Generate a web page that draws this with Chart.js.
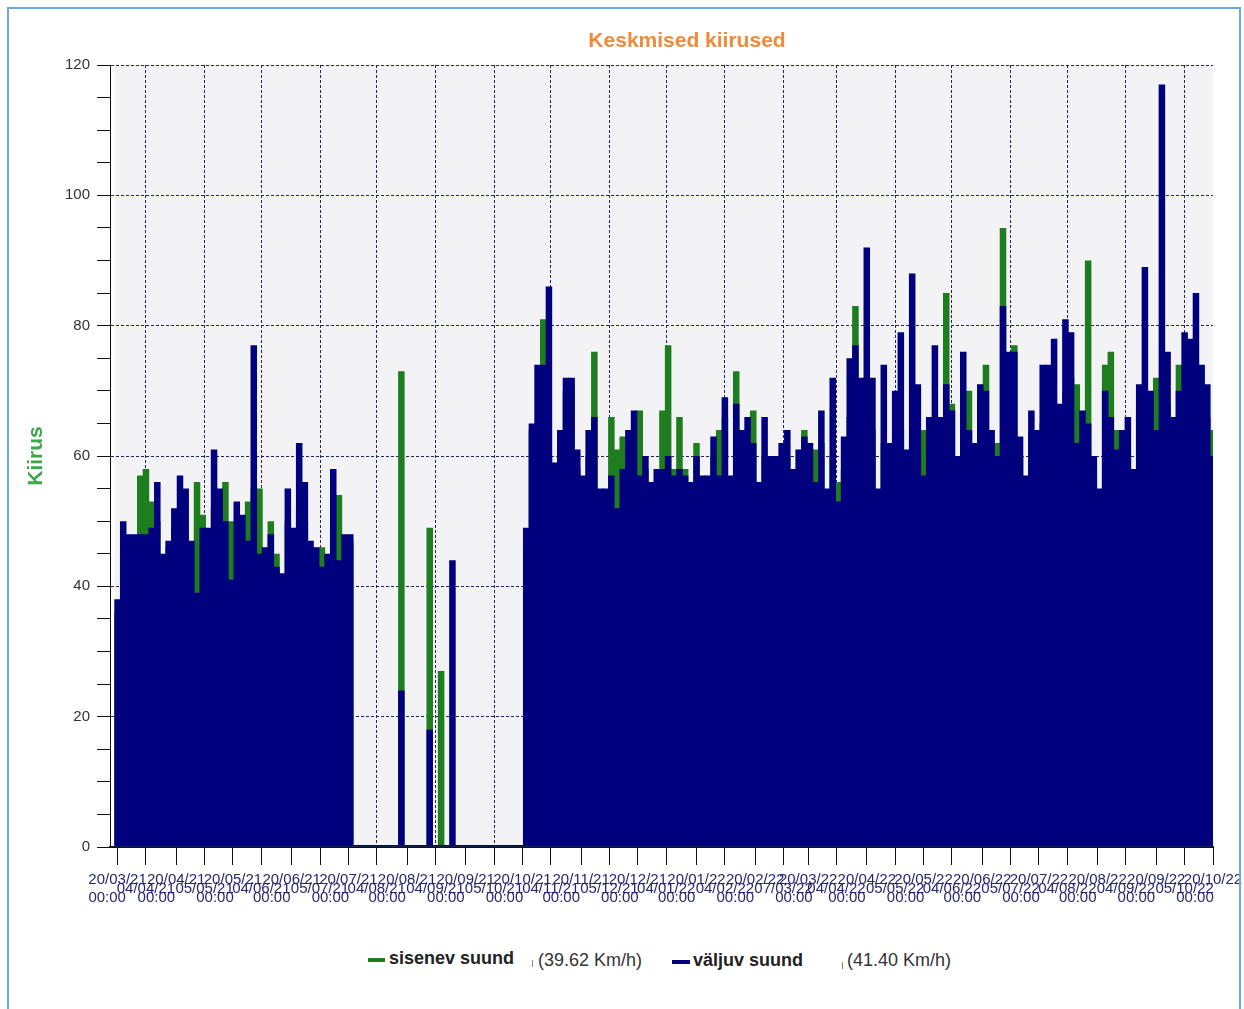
<!DOCTYPE html>
<html>
<head>
<meta charset="utf-8">
<title>Keskmised kiirused</title>
<script src="https://cdn.jsdelivr.net/npm/chart.js@4.4.1/dist/chart.umd.min.js"></script>
<style>
  html, body { margin: 0; padding: 0; background: #fff; overflow: hidden; }
  #wrap { position: relative; width: 1244px; height: 1009px; font-family: "Liberation Sans", Arial, sans-serif; }
  #chart { position: absolute; left: 0; top: 0; }
  #frame { position: absolute; left: 7px; top: 7px; width: 1234px; height: 1010px; box-sizing: border-box;
           border: 2px solid #6fa8dc; border-bottom: none; pointer-events: none; }
  #title { position: absolute; left: 687px; top: 28px; transform: translateX(-50%); white-space: nowrap;
           font-weight: bold; font-size: 21px; line-height: 24px; color: #ef8a3a; }
  .dash { position: absolute; height: 4px; }
  .mark { position: absolute; width: 1px; height: 7px; background: #888; }
  .leg { position: absolute; font-size: 18px; line-height: 22px; white-space: nowrap; }
  .leg.name { font-weight: bold; color: #222; }
  .leg.avg { color: #333; }
</style>
</head>
<body>
<div id="wrap">
  <canvas id="chart" width="1244" height="907"></canvas>
  <div id="title">Keskmised kiirused</div>

  <div class="dash" style="left:368px; top:958px; width:17px; background:#1e7d1e;"></div>
  <div class="leg name" style="left:389px; top:947px;">sisenev suund</div>
  <div class="mark" style="left:532px; top:960px;"></div>
  <div class="leg avg" style="left:538px; top:949px;">(39.62 Km/h)</div>

  <div class="dash" style="left:672px; top:960px; width:18px; background:#00007f;"></div>
  <div class="leg name" style="left:693px; top:949px;">väljuv suund</div>
  <div class="mark" style="left:842px; top:962px;"></div>
  <div class="leg avg" style="left:847px; top:949px;">(41.40 Km/h)</div>

  <div id="frame"></div>
</div>

<script>
// one value every 3 days starting 20/03/21
const START = Date.UTC(2021, 2, 20);
const STEP_DAYS = 3;

// month ticks (first label row) and the ticks in between (second row)
const monthLabels = ['20/03/21', '20/04/21', '20/05/21', '20/06/21', '20/07/21', '20/08/21', '20/09/21',
    '20/10/21', '20/11/21', '20/12/21', '20/01/22', '20/02/22', '20/03/22', '20/04/22', '20/05/22',
    '20/06/22', '20/07/22', '20/08/22', '20/09/22', '20/10/22'];
const midLabels = ['04/04/21', '05/05/21', '04/06/21', '05/07/21', '04/08/21', '04/09/21', '05/10/21',
    '04/11/21', '05/12/21', '04/01/22', '04/02/22', '07/03/22', '04/04/22', '05/05/22', '04/06/22',
    '05/07/22', '04/08/22', '04/09/22', '05/10/22'];

// sisenev suund (green)
const sisenev = [
    36, 45, 47, 47, 57, 58, 53, 50, 44, 46, 49, 50, 41, 46, 56, 51, 47, 52, 40, 56,
    50, 48, 49, 53, 55, 55, 44, 50, 45, 41, 50, 47, 52, 50, 46, 45, 46, 44, 50, 54,
    47, 47,
    // no data most of the summer
    0, 0, 0, 0, 0, 0, 0, 0, 73, 0, 0, 0, 0, 49, 0, 27, 0, 0, 0, 0,
    0, 0, 0, 0, 0, 0, 0, 0, 0, 0,
    46, 64, 56, 81, 60, 56, 58, 70, 71, 58, 54, 60, 76, 52, 53, 66, 61, 63, 60, 60,
    67, 58, 54, 55, 67, 77, 58, 66, 58, 54, 62, 55, 55, 60, 64, 66, 55, 73, 60, 62,
    67, 54, 60, 57, 58, 59, 60, 55, 58, 64, 61, 61, 62, 52, 60, 56, 58, 66, 83, 70,
    62, 64, 53, 62, 60, 62, 64, 59, 62, 60, 64, 60, 65, 62, 85, 68, 58, 62, 70, 60,
    68, 74, 62, 62, 95, 70, 77, 60, 55, 64, 62, 65, 66, 68, 66, 70, 72, 71, 64, 90,
    58, 53, 74, 76, 64, 62, 60, 56, 67, 65, 64, 72, 66, 68, 64, 74, 70, 72, 68, 65,
    66, 64
];

// väljuv suund (navy)
const valjuv = [
    38, 50, 48, 48, 48, 48, 49, 56, 45, 47, 52, 57, 55, 47, 39, 49, 49, 61, 55, 50,
    41, 53, 51, 47, 77, 45, 46, 48, 43, 42, 55, 49, 62, 56, 47, 46, 43, 45, 58, 44,
    48, 48,
    0, 0, 0, 0, 0, 0, 0, 0, 24, 0, 0, 0, 0, 18, 0, 0, 0, 44, 0, 0,
    0, 0, 0, 0, 0, 0, 0, 0, 0, 0,
    49, 65, 74, 74, 86, 59, 64, 72, 72, 61, 57, 64, 66, 55, 55, 57, 52, 58, 64, 67,
    57, 60, 56, 58, 58, 60, 57, 58, 57, 56, 60, 57, 57, 63, 57, 69, 57, 68, 64, 66,
    62, 56, 66, 60, 60, 62, 64, 58, 61, 63, 62, 56, 67, 55, 72, 53, 63, 75, 77, 72,
    92, 72, 55, 74, 62, 70, 79, 61, 88, 71, 57, 66, 77, 66, 71, 67, 60, 76, 64, 62,
    71, 70, 64, 60, 83, 76, 76, 63, 57, 67, 64, 74, 74, 78, 68, 81, 79, 62, 67, 65,
    60, 55, 70, 66, 61, 64, 66, 58, 71, 89, 70, 64, 117, 76, 66, 70, 79, 78, 85, 74,
    71, 60
];

const GREEN = '#1e7d1e';
const NAVY = '#00007f';
const GRID = '#22226a';
const CLEAR = 'rgba(0,0,0,0)';

function dayOf(label) {
    const [d, m, y] = label.split('/').map(Number);
    return Math.round((Date.UTC(2000 + y, m - 1, d) - START) / 864e5);
}

function toPoints(series) {
    return series.map((v, i) => ({ x: i * STEP_DAYS, y: v }));
}

// tick text, three rows like the original: date / in-between date / time
const tickText = {};
monthLabels.forEach((l, i) => {
    tickText[dayOf(l)] = [l, '', i === 0 ? '00:00     ' : ''];
});
midLabels.forEach(l => {
    tickText[dayOf(l)] = ['', l, '     00:00'];
});
const tickDays = Object.keys(tickText).map(Number).sort((a, b) => a - b);
const midDays = new Set(midLabels.map(dayOf));
const lastDay = dayOf(monthLabels[monthLabels.length - 1]);

// grey plot background
const plotBg = {
    id: 'plotBg',
    beforeDraw(chart) {
        const { ctx, chartArea: a } = chart;
        ctx.save();
        ctx.fillStyle = '#f3f3f6';
        ctx.fillRect(a.left + 5, a.top, a.right - a.left - 5, a.bottom - a.top);
        ctx.restore();
    }
};

const barStyle = { grouped: false, barPercentage: 1.15, categoryPercentage: 1, minBarLength: 2, borderWidth: 0 };

new Chart(document.getElementById('chart'), {
    type: 'bar',
    data: {
        datasets: [
            Object.assign({ label: 'sisenev suund', data: toPoints(sisenev), backgroundColor: GREEN, order: 1 }, barStyle),
            Object.assign({ label: 'väljuv suund', data: toPoints(valjuv), backgroundColor: NAVY, order: 0 }, barStyle)
        ]
    },
    options: {
        responsive: false,
        animation: false,
        layout: { padding: { left: 0, right: 31, top: 65, bottom: 0 } },
        plugins: {
            legend: { display: false },
            tooltip: { enabled: false }
        },
        scales: {
            x: {
                type: 'linear',
                min: -4,
                max: lastDay,
                offset: false,
                afterBuildTicks: scale => {
                    scale.ticks = tickDays.map(v => ({ value: v }));
                },
                afterFit: scale => {
                    scale.height = 60;
                    scale.paddingLeft = 0;
                    scale.paddingRight = 0;
                },
                grid: {
                    offset: false,
                    color: ctx => (ctx.tick && midDays.has(ctx.tick.value)) ? GRID : CLEAR,
                    lineWidth: 1,
                    tickColor: '#111',
                    tickLength: 18,
                    tickWidth: 1
                },
                border: { display: true, color: '#111', width: 2, dash: [3, 2] },
                ticks: {
                    autoSkip: false,
                    maxRotation: 0,
                    minRotation: 0,
                    padding: 10,
                    color: '#262673',
                    font: { family: '"Liberation Sans", Arial, sans-serif', size: 15, lineHeight: '9px' },
                    callback: value => tickText[value] || ''
                }
            },
            y: {
                min: 0,
                max: 120,
                afterFit: scale => {
                    scale.width = 110;
                },
                grid: {
                    color: ctx => (ctx.tick && ctx.tick.value > 0 && ctx.tick.value % 20 === 0) ? GRID : CLEAR,
                    lineWidth: 1,
                    tickColor: '#111',
                    tickLength: 13
                },
                border: { display: true, color: '#111', width: 1, dash: [3, 2] },
                ticks: {
                    stepSize: 5,
                    autoSkip: false,
                    padding: 7,
                    color: '#333',
                    font: { family: '"Liberation Sans", Arial, sans-serif', size: 15 },
                    callback: value => value % 20 === 0 ? value : ''
                },
                title: {
                    display: true,
                    text: 'Kiirus',
                    color: '#3aa845',
                    padding: { top: 24, bottom: 0 },
                    font: { family: '"Liberation Sans", Arial, sans-serif', size: 21, weight: 'bold' }
                }
            }
        }
    },
    plugins: [plotBg]
});
</script>
</body>
</html>
